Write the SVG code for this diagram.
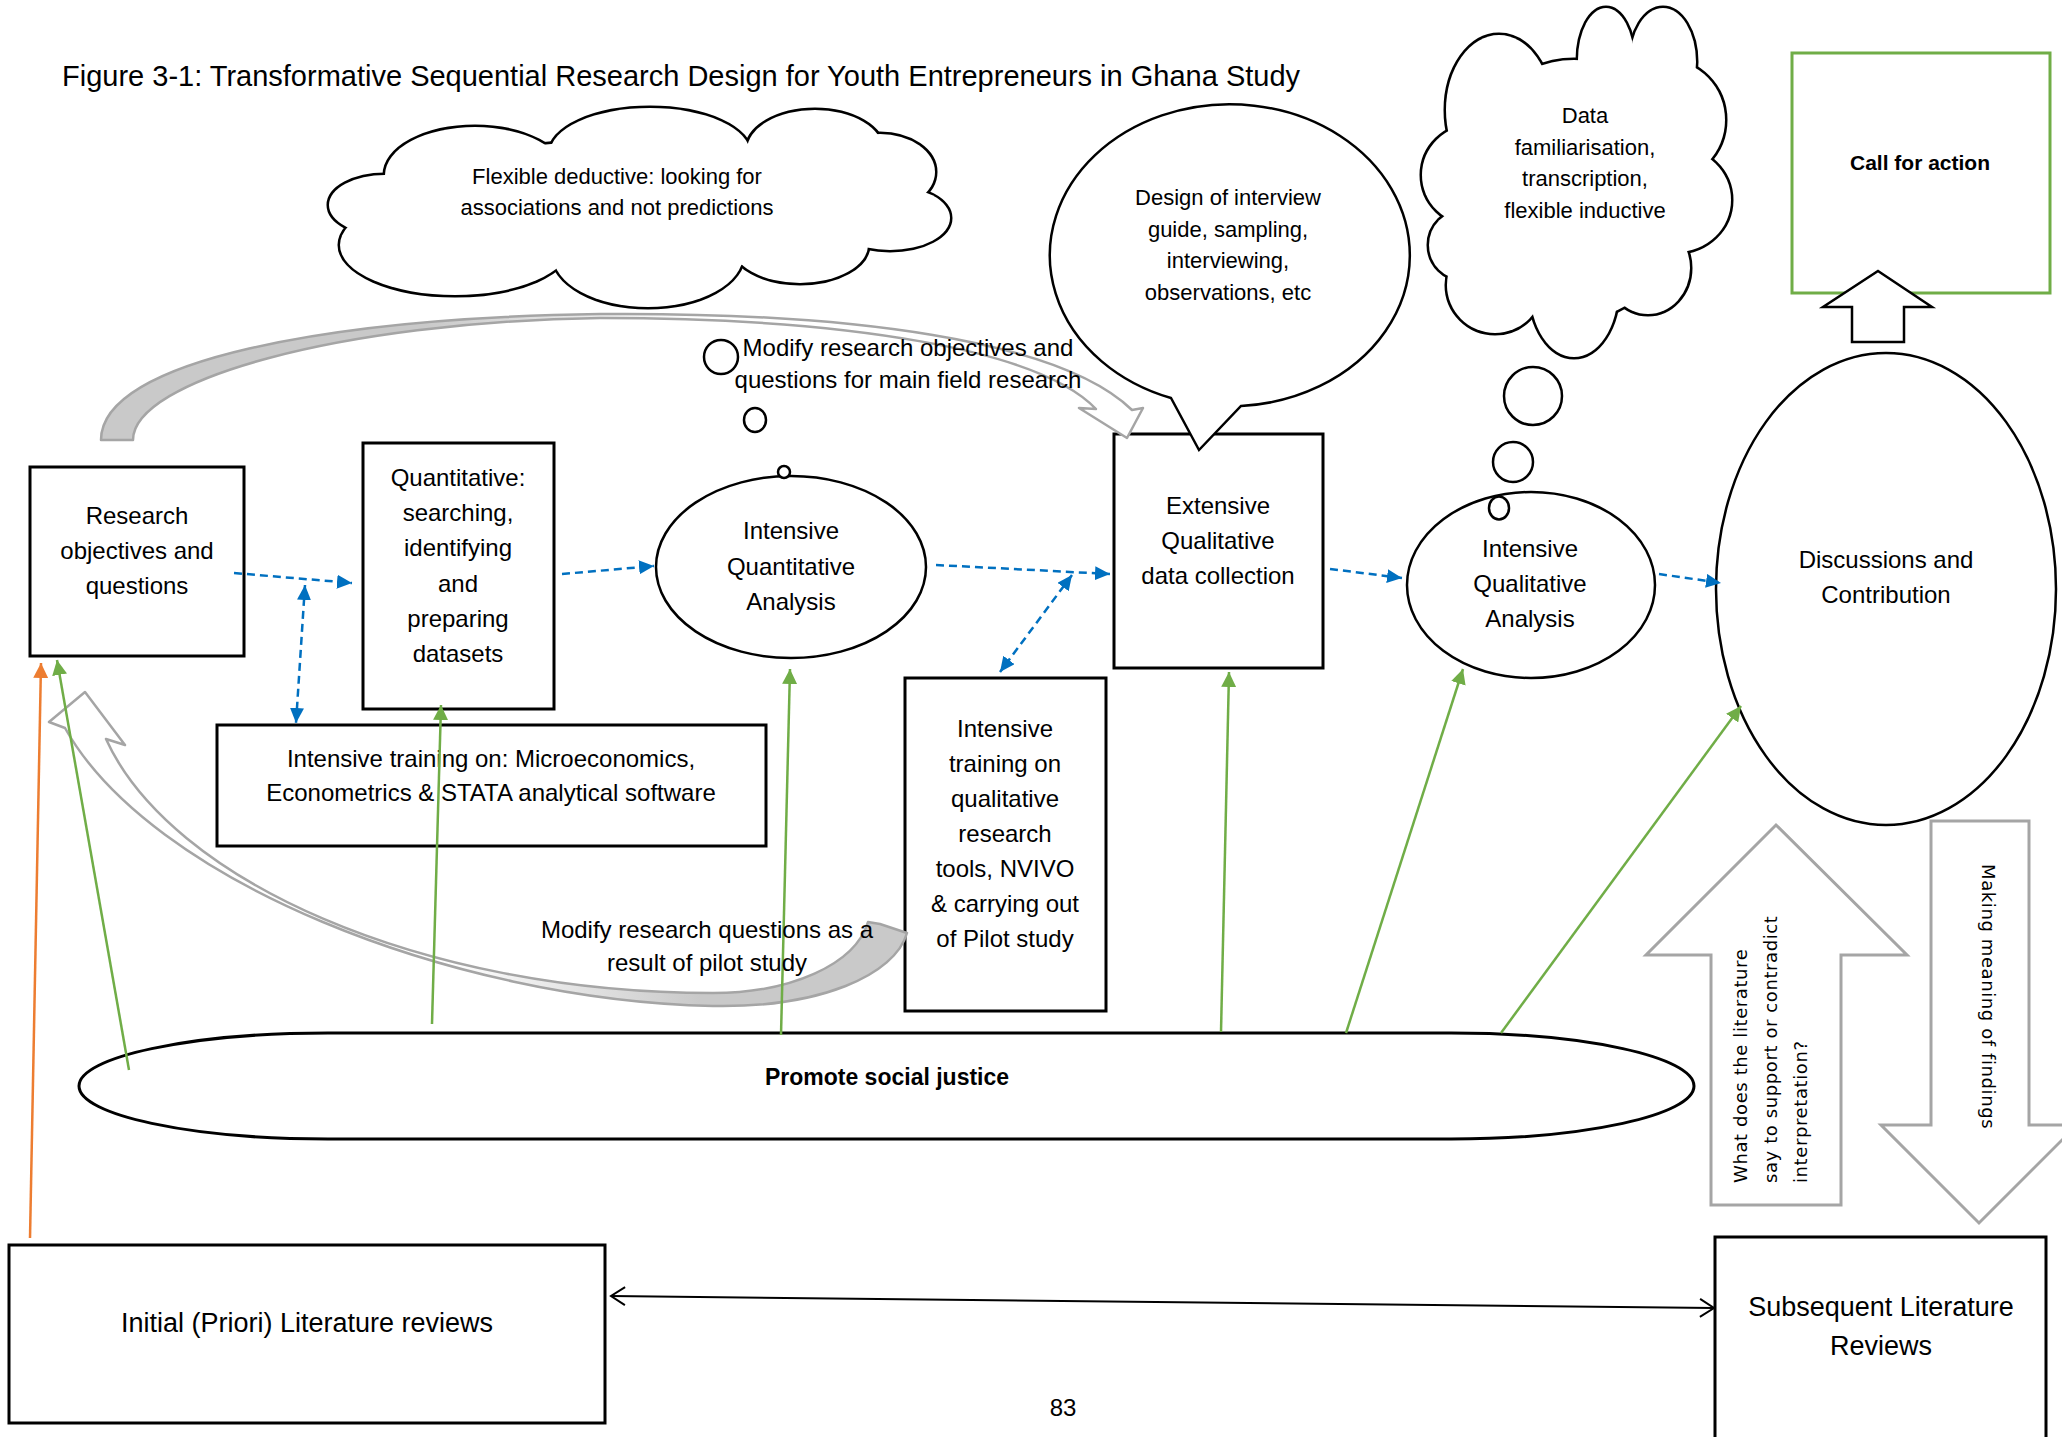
<svg xmlns="http://www.w3.org/2000/svg" width="2062" height="1437" viewBox="0 0 2062 1437">
<defs>
<style>
text { font-family: "Liberation Sans", Arial, sans-serif; fill: #000; }
.t24 { font-size: 24px; text-anchor: middle; }
.t22 { font-size: 22px; text-anchor: middle; }
.t27 { font-size: 27px; text-anchor: middle; }
.bold { font-weight: bold; }
.box { fill: #fff; stroke: #000; stroke-width: 3; }
.ell { fill: #fff; stroke: #000; stroke-width: 2.5; }
.cloudStroke { fill: none; stroke: #000; stroke-width: 5; }
.cloudFill { fill: #fff; stroke: none; }
.blue { fill: none; stroke: #0070c0; stroke-width: 2.5; stroke-dasharray: 8 5; }
.green { fill: none; stroke: #70ad47; stroke-width: 2.5; }
.orange { fill: none; stroke: #ed7d31; stroke-width: 2.5; }
.black { fill: none; stroke: #000; stroke-width: 2; }
.grayBand { stroke: #a5a5a5; stroke-width: 2.5; stroke-linejoin: round; }
.grayOutline { fill: #fff; stroke: #a5a5a5; stroke-width: 3; }
.rot { font-family: "DejaVu Sans", sans-serif; font-size: 18px; letter-spacing: 0.6px; }
</style>
<marker id="mBlue" markerUnits="userSpaceOnUse" markerWidth="16" markerHeight="14" refX="15" refY="7" orient="auto-start-reverse"><path d="M0,0 L15,7 L0,14 Z" fill="#0070c0"/></marker>
<marker id="mGreen" markerUnits="userSpaceOnUse" markerWidth="16" markerHeight="15" refX="15" refY="7.5" orient="auto-start-reverse"><path d="M0,0 L15,7.5 L0,15 Z" fill="#70ad47"/></marker>
<marker id="mOrange" markerUnits="userSpaceOnUse" markerWidth="16" markerHeight="15" refX="15" refY="7.5" orient="auto-start-reverse"><path d="M0,0 L15,7.5 L0,15 Z" fill="#ed7d31"/></marker>
<marker id="mOpen" markerUnits="userSpaceOnUse" markerWidth="18" markerHeight="20" refX="15" refY="10" orient="auto-start-reverse"><path d="M1,1 L15,10 L1,19" fill="none" stroke="#000" stroke-width="2"/></marker>
<linearGradient id="gTop" gradientUnits="userSpaceOnUse" x1="150" y1="0" x2="700" y2="0">
<stop offset="0" stop-color="#c9c9c9"/><stop offset="0.5" stop-color="#c9c9c9"/><stop offset="1" stop-color="#ffffff"/>
</linearGradient>
<linearGradient id="gBot" gradientUnits="userSpaceOnUse" x1="450" y1="0" x2="700" y2="0">
<stop offset="0" stop-color="#ffffff"/><stop offset="1" stop-color="#c9c9c9"/>
</linearGradient>
<g id="c1shape">
<ellipse cx="385" cy="205" rx="56" ry="30"/>
<ellipse cx="475" cy="175" rx="90" ry="48"/>
<ellipse cx="650" cy="153" rx="100" ry="45"/>
<ellipse cx="815" cy="150" rx="68" ry="40"/>
<ellipse cx="880" cy="172" rx="55" ry="38"/>
<ellipse cx="890" cy="218" rx="60" ry="32"/>
<ellipse cx="800" cy="245" rx="68" ry="38"/>
<ellipse cx="648" cy="255" rx="95" ry="52"/>
<ellipse cx="455" cy="245" rx="115" ry="50"/>
<ellipse cx="640" cy="205" rx="260" ry="65"/>
</g>
<g id="c2shape">
<ellipse cx="1499" cy="110" rx="53" ry="75"/>
<ellipse cx="1606" cy="60" rx="28" ry="52"/>
<ellipse cx="1663" cy="62" rx="33" ry="54"/>
<ellipse cx="1666" cy="120" rx="59" ry="60"/>
<ellipse cx="1677" cy="200" rx="54" ry="52"/>
<ellipse cx="1648" cy="268" rx="42" ry="46"/>
<ellipse cx="1574" cy="290" rx="44" ry="67"/>
<ellipse cx="1495" cy="285" rx="48" ry="48"/>
<ellipse cx="1464" cy="245" rx="35" ry="35"/>
<ellipse cx="1473" cy="175" rx="51" ry="50"/>
<ellipse cx="1574" cy="190" rx="114" ry="130"/>
</g>
</defs>

<rect x="0" y="0" width="2062" height="1437" fill="#fff"/>

<text id="title" x="62" y="86" style="font-size:29px">Figure 3-1: Transformative Sequential Research Design for Youth Entrepreneurs in Ghana Study</text>

<g id="cloud-deductive">
<use href="#c1shape" class="cloudStroke"/>
<use href="#c1shape" class="cloudFill"/>
<text class="t22" x="617" y="184">Flexible deductive: looking for</text>
<text class="t22" x="617" y="215">associations and not predictions</text>
</g>

<g id="cloud-inductive">
<use href="#c2shape" class="cloudStroke"/>
<use href="#c2shape" class="cloudFill"/>
<text class="t22" x="1585" y="123">Data</text>
<text class="t22" x="1585" y="155">familiarisation,</text>
<text class="t22" x="1585" y="186">transcription,</text>
<text class="t22" x="1585" y="218">flexible inductive</text>
<ellipse class="ell" cx="1533" cy="396" rx="29" ry="29"/>
<ellipse class="ell" cx="1513" cy="462" rx="20" ry="20"/>
</g>

<g id="call-for-action">
<rect x="1792" y="53" width="258" height="240" fill="#fff" stroke="#70ad47" stroke-width="3"/>
<text class="bold" x="1920" y="170" style="font-size:21px;text-anchor:middle">Call for action</text>
</g>

<g id="up-arrow-action">
<polygon points="1878,271 1932,307 1904,307 1904,342 1852,342 1852,307 1823,307" fill="#fff" stroke="#000" stroke-width="2.5"/>
</g>

<g id="research-objectives">
<rect class="box" x="30" y="467" width="214" height="189"/>
<text class="t24" x="137" y="524">Research</text>
<text class="t24" x="137" y="559">objectives and</text>
<text class="t24" x="137" y="594">questions</text>
</g>

<g id="quantitative-datasets">
<rect class="box" x="363" y="443" width="191" height="266"/>
<text class="t24" x="458" y="486">Quantitative:</text>
<text class="t24" x="458" y="521">searching,</text>
<text class="t24" x="458" y="556">identifying</text>
<text class="t24" x="458" y="592">and</text>
<text class="t24" x="458" y="627">preparing</text>
<text class="t24" x="458" y="662">datasets</text>
</g>

<g id="quant-analysis">
<ellipse class="ell" cx="791" cy="567" rx="135" ry="91"/>
<text class="t24" x="791" y="539">Intensive</text>
<text class="t24" x="791" y="575">Quantitative</text>
<text class="t24" x="791" y="610">Analysis</text>
</g>

<g id="training-quant">
<rect class="box" x="217" y="725" width="549" height="121"/>
<text class="t24" x="491" y="767">Intensive training on: Microeconomics,</text>
<text class="t24" x="491" y="801">Econometrics &amp; STATA analytical software</text>
</g>

<g id="qual-collection">
<rect class="box" x="1114" y="434" width="209" height="234"/>
<text class="t24" x="1218" y="514">Extensive</text>
<text class="t24" x="1218" y="549">Qualitative</text>
<text class="t24" x="1218" y="584">data collection</text>
</g>

<g id="bubble-interview">
<path d="M1171,398 A180,151 0 1 1 1241,406 L1199,450 Z" fill="#fff" stroke="#000" stroke-width="2.5" stroke-linejoin="miter"/>
<text class="t22" x="1228" y="205">Design of interview</text>
<text class="t22" x="1228" y="237">guide, sampling,</text>
<text class="t22" x="1228" y="268">interviewing,</text>
<text class="t22" x="1228" y="300">observations, etc</text>
</g>

<g id="qual-analysis">
<ellipse class="ell" cx="1531" cy="585" rx="124" ry="93"/>
<text class="t24" x="1530" y="557">Intensive</text>
<text class="t24" x="1530" y="592">Qualitative</text>
<text class="t24" x="1530" y="627">Analysis</text>
<ellipse class="ell" cx="1499" cy="508" rx="10" ry="11.5"/>
</g>

<g id="training-qual">
<rect class="box" x="905" y="678" width="201" height="333"/>
<text class="t24" x="1005" y="737">Intensive</text>
<text class="t24" x="1005" y="772">training on</text>
<text class="t24" x="1005" y="807">qualitative</text>
<text class="t24" x="1005" y="842">research</text>
<text class="t24" x="1005" y="877">tools, NVIVO</text>
<text class="t24" x="1005" y="912">&amp; carrying out</text>
<text class="t24" x="1005" y="947">of Pilot study</text>
</g>

<g id="discussions">
<ellipse class="ell" cx="1886" cy="589" rx="170" ry="236"/>
<text class="t24" x="1886" y="568">Discussions and</text>
<text class="t24" x="1886" y="603">Contribution</text>
</g>

<g id="social-justice">
<path d="M328,1033 H1451 C1585,1033 1694,1057 1694,1086 C1694,1115 1585,1139 1451,1139 H328 C190,1139 79,1115 79,1086 C79,1057 190,1033 328,1033 Z" fill="#fff" stroke="#000" stroke-width="3"/>
<text class="bold" x="887" y="1085" style="font-size:23px;text-anchor:middle">Promote social justice</text>
</g>

<g id="initial-literature">
<rect class="box" x="9" y="1245" width="596" height="178"/>
<text class="t27" x="307" y="1332">Initial (Priori) Literature reviews</text>
</g>

<g id="subsequent-literature">
<rect class="box" x="1715" y="1237" width="331" height="230"/>
<text class="t27" x="1881" y="1316">Subsequent Literature</text>
<text class="t27" x="1881" y="1355">Reviews</text>
</g>

<g id="literature-support-arrow">
<polygon class="grayOutline" points="1776,825 1907,955 1841,955 1841,1205 1711,1205 1711,955 1646,955"/>
<text class="rot" transform="translate(1747,1183) rotate(-90)">What does the literature</text>
<text class="rot" transform="translate(1777,1183) rotate(-90)">say to support or contradict</text>
<text class="rot" transform="translate(1807,1183) rotate(-90)">interpretation?</text>
</g>

<g id="making-meaning-arrow">
<polygon class="grayOutline" points="1931,821 2029,821 2029,1125 2077,1125 1979,1223 1881,1125 1931,1125"/>
<text class="rot" transform="translate(1982,864) rotate(90)">Making meaning of findings</text>
</g>

<g id="connectors">
<path class="grayBand" fill="url(#gTop)" d="M101,440 C101,360 330,318 600,314 C850,312 1060,340 1132,410 L1143,408 L1127,438 L1079,408 L1096,409 C1040,350 850,318 600,318 C340,322 133,380 133,440 Z"/>
<path class="grayBand" fill="url(#gBot)" d="M65,728 C150,880 450,1000 713,1006 C820,1008 895,975 907,933 L880,924 L868,922 C855,965 790,993 713,993 C420,993 170,880 106,739 L125,745 L85,692 L49,722 Z"/>

<path class="blue" d="M234,573 L352,583" marker-end="url(#mBlue)"/>
<path class="blue" d="M305,585 L296,723" marker-start="url(#mBlue)" marker-end="url(#mBlue)"/>
<path class="blue" d="M562,574 L654,566" marker-end="url(#mBlue)"/>
<path class="blue" d="M936,565 L1110,574" marker-end="url(#mBlue)"/>
<path class="blue" d="M1072,575 L1000,672" marker-start="url(#mBlue)" marker-end="url(#mBlue)"/>
<path class="blue" d="M1330,569 L1402,578" marker-end="url(#mBlue)"/>
<path class="blue" d="M1659,574 L1721,583" marker-end="url(#mBlue)"/>

<path class="green" d="M129,1070 L57,660" marker-end="url(#mGreen)"/>
<path class="green" d="M432,1024 L441,705" marker-end="url(#mGreen)"/>
<path class="green" d="M781,1035 L790,669" marker-end="url(#mGreen)"/>
<path class="green" d="M1221,1032 L1229,672" marker-end="url(#mGreen)"/>
<path class="green" d="M1346,1033 L1463,669" marker-end="url(#mGreen)"/>
<path class="green" d="M1501,1033 L1741,706" marker-end="url(#mGreen)"/>

<path class="orange" d="M30,1238 L41,663" marker-end="url(#mOrange)"/>

<path class="black" d="M611,1296 L1714,1308" marker-start="url(#mOpen)" marker-end="url(#mOpen)"/>
</g>

<g id="thought-modify-objectives">
<ellipse class="ell" cx="721" cy="357" rx="17" ry="17"/>
<ellipse class="ell" cx="755" cy="420" rx="11" ry="12"/>
<ellipse class="ell" cx="784" cy="472" rx="6" ry="6"/>
<text class="t24" x="908" y="356">Modify research objectives and</text>
<text class="t24" x="908" y="388">questions for main field research</text>
</g>

<g id="label-pilot">
<text class="t24" x="707" y="938">Modify research questions as a</text>
<text class="t24" x="707" y="971">result of pilot study</text>
</g>

<text id="page-number" class="t24" x="1063" y="1416">83</text>
</svg>
